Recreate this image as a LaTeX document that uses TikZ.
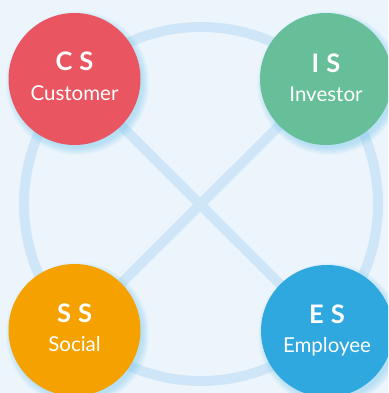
\documentclass[tikz,border=0pt]{standalone}
\usepackage{fontspec}
\setmainfont{Lato}
\usetikzlibrary{calc}
\definecolor{bgblue}{HTML}{EDF5FC}
\definecolor{ringblue}{HTML}{CFE6F8}
\definecolor{glowblue}{HTML}{6CC4EE}
\definecolor{csred}{HTML}{E95661}
\definecolor{isgreen}{HTML}{66BF99}
\definecolor{ssorange}{HTML}{F5A200}
\definecolor{esblue}{HTML}{2FA7DF}
\tikzset{
  party/.style={circle, minimum size=132pt, inner sep=0pt},
  abbr/.style={anchor=base, text=white, font=\fontsize{25.5}{28}\selectfont\bfseries},
  who/.style={anchor=base, text=white, font=\fontsize{20.5}{22}\selectfont},
  link/.style={ringblue, line width=10pt},
}
\begin{document}
\begin{tikzpicture}[x=1pt, y=-1pt]
            \useasboundingbox (0, 0) rectangle (388, 393);
            \clip (0, 0) rectangle (388, 393);
            \fill[bgblue] (0, 0) rectangle (388, 393);

            \coordinate (cs) at (74.5, 79);
            \coordinate (is) at (326, 79);
            \coordinate (ss) at (74.5, 330);
            \coordinate (es) at (327, 331);

            % ring and cross
            \draw[link] (201, 204) circle[radius=177];
            \draw[link] (cs) -- (es);
            \draw[link] (is) -- (ss);

            % soft glow
            \foreach \p in {cs, is, ss, es} {
                \foreach \g in {1, ..., 8} {
                    \fill[glowblue, opacity=0.06] ($(\p) + (3, 4)$) circle[radius=64 + \g];
                }
            }

            \node[party, fill=csred] (csdisc) at (cs) {};
            \node[party, fill=isgreen] (isdisc) at (is) {};
            \node[party, fill=ssorange] (ssdisc) at (ss) {};
            \node[party, fill=esblue] (esdisc) at (es) {};

            \node[abbr] (cstag) at ($(cs) + (0, -8)$) {C\hspace{7pt}S};
            \node[who] (csname) at ($(cs) + (0, 21)$) {Customer};
            \node[abbr] (istag) at ($(is) + (0, -6)$) {I\hspace{7pt}S};
            \node[who] (isname) at ($(is) + (0, 23)$) {Investor};
            \node[abbr] (sstag) at ($(ss) + (0, -7.5)$) {S\hspace{7pt}S};
            \node[who] (ssname) at ($(ss) + (0, 21)$) {Social};
            \node[abbr] (estag) at ($(es) + (0, -8)$) {E\hspace{7pt}S};
            \node[who] (esname) at ($(es) + (0, 21)$) {Employee};
        \end{tikzpicture}
\end{document}
